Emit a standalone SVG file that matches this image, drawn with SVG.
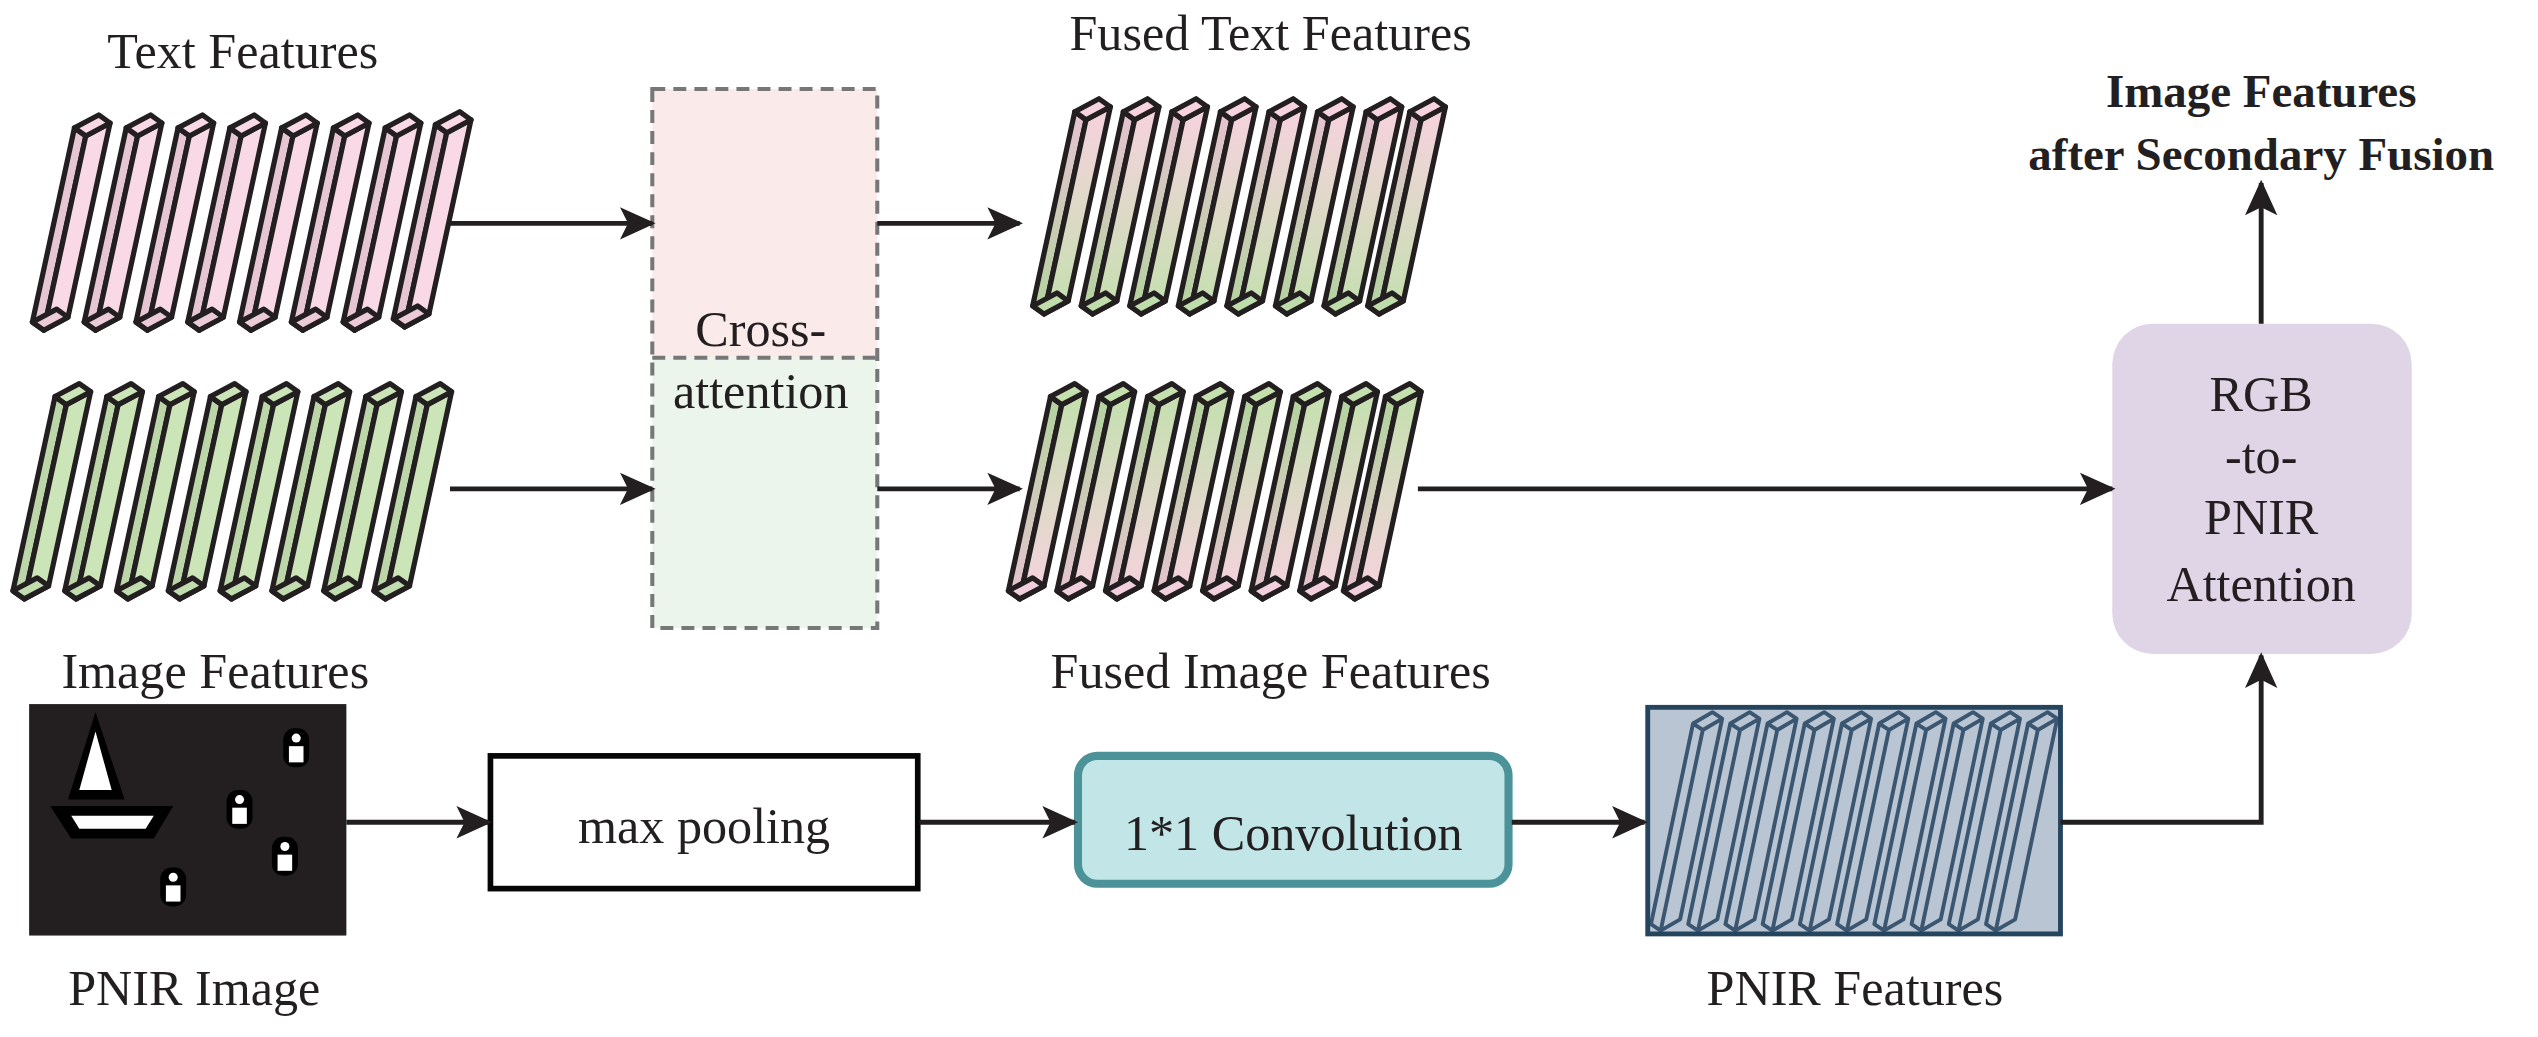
<svg xmlns="http://www.w3.org/2000/svg" width="2538" height="1037" viewBox="0 0 2538 1037">
<style>
text{font-family:"Liberation Serif","Times New Roman",serif;fill:#231f20;text-anchor:middle}
.lbl{font-size:31px}
.b{font-weight:bold;font-size:29px}
.c{stroke:#231f20;stroke-width:3;fill:none}
.bar path{stroke:#231f20;stroke-width:3.2;stroke-linejoin:round}
</style>
<defs>
<marker id="ah" markerUnits="userSpaceOnUse" markerWidth="24" markerHeight="24" refX="20" refY="10" orient="auto" viewBox="0 0 24 20">
<path d="M0,0 L22,10 L0,20 L5,10 Z" fill="#231f20"/>
</marker>
<linearGradient id="gTF" x1="0" y1="0" x2="0" y2="1"><stop offset="0" stop-color="#f7d2df"/><stop offset="1" stop-color="#c3e0ae"/></linearGradient>
<linearGradient id="gTS" x1="0" y1="0" x2="0" y2="1"><stop offset="0" stop-color="#e6c3d0"/><stop offset="1" stop-color="#b3d39f"/></linearGradient>
<linearGradient id="gIF" x1="0" y1="0" x2="0" y2="1"><stop offset="0" stop-color="#c3e0ae"/><stop offset="1" stop-color="#f7d2df"/></linearGradient>
<linearGradient id="gIS" x1="0" y1="0" x2="0" y2="1"><stop offset="0" stop-color="#b3d39f"/><stop offset="1" stop-color="#e6c3d0"/></linearGradient>
<g id="barP" class="bar">
<path d="M0,-5 L7,0 L33,-120 L26,-125 Z" fill="#e6c6d3"/>
<path d="M7,0 L22,-8 L48,-128 L33,-120 Z" fill="#f9d9e5"/>
<path d="M0,-5 L7,0 L22,-8 L15,-13 Z" fill="#eccbd8"/>
<path d="M26,-125 L33,-120 L48,-128 L41,-133 Z" fill="#f9d9e5"/>
</g>
<g id="barG" class="bar">
<path d="M0,-5 L7,0 L33,-120 L26,-125 Z" fill="#bcd6a9"/>
<path d="M7,0 L22,-8 L48,-128 L33,-120 Z" fill="#cbe5b8"/>
<path d="M0,-5 L7,0 L22,-8 L15,-13 Z" fill="#c1dcaf"/>
<path d="M26,-125 L33,-120 L48,-128 L41,-133 Z" fill="#cbe5b8"/>
</g>
<g id="barFT" class="bar">
<path d="M0,-5 L7,0 L33,-120 L26,-125 Z" fill="url(#gTS)"/>
<path d="M7,0 L22,-8 L48,-128 L33,-120 Z" fill="url(#gTF)"/>
<path d="M0,-5 L7,0 L22,-8 L15,-13 Z" fill="#bfdcab"/>
<path d="M26,-125 L33,-120 L48,-128 L41,-133 Z" fill="#f7d2df"/>
</g>
<g id="barFI" class="bar">
<path d="M0,-5 L7,0 L33,-120 L26,-125 Z" fill="url(#gIS)"/>
<path d="M7,0 L22,-8 L48,-128 L33,-120 Z" fill="url(#gIF)"/>
<path d="M0,-5 L7,0 L22,-8 L15,-13 Z" fill="#f2cfdc"/>
<path d="M26,-125 L33,-120 L48,-128 L41,-133 Z" fill="#c3e0ae"/>
</g>
<g id="barN">
<path d="M0,-4 L6,0 L18,-7 L44,-131 L38,-135 L26,-128 Z M6,0 L32,-124 L44,-131 M26,-128 L32,-124" fill="#b9c5d3" stroke="#3b5670" stroke-width="2.4" stroke-linejoin="round"/>
</g>
<clipPath id="clipN"><rect x="1018" y="437" width="255" height="140"/></clipPath>
<g id="person"><rect x="-8" y="-14" width="16" height="24" rx="7" fill="#000"/><rect x="-4.5" y="-3" width="9" height="10" fill="#fff"/><circle cx="0" cy="-8" r="2.8" fill="#fff"/></g>
</defs>
<g transform="scale(1.6186)">
<g id="text-features">
<text class="lbl" x="150" y="42">Text Features</text>
<use href="#barP" x="20" y="204"/><use href="#barP" x="52" y="204"/><use href="#barP" x="84" y="204"/><use href="#barP" x="116" y="204"/>
<use href="#barP" x="148" y="204"/><use href="#barP" x="180" y="204"/><use href="#barP" x="212" y="204"/><use href="#barP" x="243" y="202"/>
</g>
<g id="image-features">
<use href="#barG" x="8" y="370"/><use href="#barG" x="40" y="370"/><use href="#barG" x="72" y="370"/><use href="#barG" x="104" y="370"/>
<use href="#barG" x="136" y="370"/><use href="#barG" x="168" y="370"/><use href="#barG" x="200" y="370"/><use href="#barG" x="231" y="370"/>
<text class="lbl" x="133" y="425">Image Features</text>
</g>
<g id="cross-attention">
<rect x="403" y="55" width="139" height="166" fill="#fbeaea"/>
<rect x="403" y="221" width="139" height="167" fill="#ebf5ec"/>
<rect x="403" y="55" width="139" height="333" fill="none" stroke="#777" stroke-width="2.5" stroke-dasharray="8,5"/>
<line x1="403" y1="221" x2="542" y2="221" stroke="#777" stroke-width="2.5" stroke-dasharray="8,5"/>
<text class="lbl" x="470" y="214">Cross-</text>
<text class="lbl" x="470" y="252">attention</text>
</g>
<g id="fused-text">
<text class="lbl" x="785" y="31">Fused Text Features</text>
<use href="#barFT" x="638" y="194"/><use href="#barFT" x="668" y="194"/><use href="#barFT" x="698" y="194"/><use href="#barFT" x="728" y="194"/>
<use href="#barFT" x="758" y="194"/><use href="#barFT" x="788" y="194"/><use href="#barFT" x="818" y="194"/><use href="#barFT" x="845" y="194"/>
</g>
<g id="fused-image">
<use href="#barFI" x="623" y="370"/><use href="#barFI" x="653" y="370"/><use href="#barFI" x="683" y="370"/><use href="#barFI" x="713" y="370"/>
<use href="#barFI" x="743" y="370"/><use href="#barFI" x="773" y="370"/><use href="#barFI" x="803" y="370"/><use href="#barFI" x="830" y="370"/>
<text class="lbl" x="785" y="425">Fused Image Features</text>
</g>
<g id="pnir-image">
<rect x="18" y="435" width="196" height="143" fill="#231f20"/>
<path d="M59,440 L42,494 L77,494 Z" fill="#000"/>
<path d="M59,452 L49,488 L69,488 Z" fill="#fff"/>
<path d="M31,498 L107,498 L95,518 L44,518 Z" fill="#000"/>
<path d="M44,504 L95,504 L90,512 L49,512 Z" fill="#fff"/>
<use href="#person" x="183" y="464"/>
<use href="#person" x="148" y="502"/>
<use href="#person" x="176" y="531"/>
<use href="#person" x="107" y="550"/>
<text class="lbl" x="120" y="621">PNIR Image</text>
</g>
<g id="max-pooling">
<rect x="303" y="467" width="264" height="82" fill="#fff" stroke="#050605" stroke-width="3.5"/>
<text class="lbl" x="435" y="521">max pooling</text>
</g>
<g id="conv">
<rect x="666" y="467" width="266" height="79" rx="12" fill="#c2e5e8" stroke="#4b9399" stroke-width="5"/>
<text class="lbl" x="799" y="525">1*1 Convolution</text>
</g>
<g id="pnir-features">
<rect x="1018" y="437" width="255" height="140" fill="#b9c5d3"/>
<g clip-path="url(#clipN)">
<use href="#barN" x="1020" y="575"/><use href="#barN" x="1043" y="575"/><use href="#barN" x="1066" y="575"/><use href="#barN" x="1089" y="575"/>
<use href="#barN" x="1112" y="575"/><use href="#barN" x="1135" y="575"/><use href="#barN" x="1158" y="575"/><use href="#barN" x="1181" y="575"/>
<use href="#barN" x="1204" y="575"/><use href="#barN" x="1227" y="575"/>
</g>
<rect x="1018" y="437" width="255" height="140" fill="none" stroke="#25445e" stroke-width="3"/>
<text class="lbl" x="1146" y="621">PNIR Features</text>
</g>
<g id="rgb-to-pnir">
<rect x="1305" y="200" width="185" height="204" rx="25" fill="#e0d5e7"/>
<text class="lbl" x="1397" y="254">RGB</text>
<text class="lbl" x="1397" y="292">-to-</text>
<text class="lbl" x="1397" y="330">PNIR</text>
<text class="lbl" x="1397" y="371">Attention</text>
</g>
<g id="output-label">
<text class="b" x="1397" y="66">Image Features</text>
<text class="b" x="1397" y="105">after Secondary Fusion</text>
</g>
<g id="connectors">
<line class="c" x1="278" y1="138" x2="403" y2="138" marker-end="url(#ah)"/>
<line class="c" x1="278" y1="302" x2="403" y2="302" marker-end="url(#ah)"/>
<line class="c" x1="542" y1="138" x2="630" y2="138" marker-end="url(#ah)"/>
<line class="c" x1="542" y1="302" x2="630" y2="302" marker-end="url(#ah)"/>
<line class="c" x1="876" y1="302" x2="1305" y2="302" marker-end="url(#ah)"/>
<line class="c" x1="214" y1="508" x2="302" y2="508" marker-end="url(#ah)"/>
<line class="c" x1="568" y1="508" x2="664" y2="508" marker-end="url(#ah)"/>
<line class="c" x1="934" y1="508" x2="1016" y2="508" marker-end="url(#ah)"/>
<polyline class="c" points="1273,508 1397,508 1397,405" marker-end="url(#ah)"/>
<line class="c" x1="1397" y1="200" x2="1397" y2="113" marker-end="url(#ah)"/>
</g>
</g>
</svg>
